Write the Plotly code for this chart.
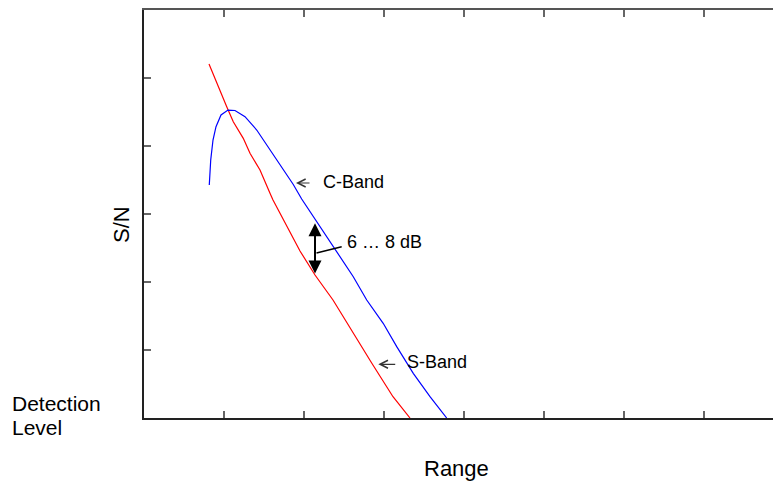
import plotly.graph_objects as go

# S-Band (red) curve, data units: x = range (ticks every 1), y = S/N (ticks every 1)
s_band_x = [0.8125, 0.909, 1.034, 1.116, 1.241, 1.325, 1.45, 1.575, 1.6125, 1.95,
            2.1375, 2.3625, 2.6125, 2.846, 3.1125, 3.325]
s_band_y = [5.206, 4.922, 4.578, 4.357, 4.113, 3.893, 3.647, 3.304, 3.206, 2.456,
            2.103, 1.735, 1.25, 0.809, 0.313, 0.0]

# C-Band (blue) curve
c_band_x = [0.816, 0.834, 0.8625, 0.9, 0.9625, 1.05, 1.1375, 1.2625, 1.409, 1.575,
            1.741, 1.866, 1.971, 2.2, 2.366, 2.616, 2.784, 2.99, 3.159, 3.366,
            3.575, 3.784]
c_band_y = [3.426, 3.794, 4.088, 4.284, 4.456, 4.529, 4.522, 4.431, 4.235, 3.941,
            3.647, 3.434, 3.221, 2.813, 2.519, 2.078, 1.735, 1.393, 1.049, 0.657,
            0.313, 0.0]

# gap marker (6 ... 8 dB)
gap_x = 2.1375
gap_top = 2.863
gap_bottom = 2.103

labels = ["C-Band", "S-Band", "6 … 8 dB"]

x_range = [0, 7.8625]
y_range = [0, 6]

FONT = "Liberation Sans, Arial, sans-serif"

fig = go.Figure()
fig.add_trace(go.Scatter(x=s_band_x, y=s_band_y, mode="lines",
                         line=dict(color="#ff0000", width=1.2), showlegend=False))
fig.add_trace(go.Scatter(x=c_band_x, y=c_band_y, mode="lines",
                         line=dict(color="#0000ff", width=1.2), showlegend=False))
# invisible trace for the top mirror axis
fig.add_trace(go.Scatter(x=[0], y=[0], xaxis="x2", mode="markers",
                         marker=dict(opacity=0), showlegend=False, hoverinfo="skip"))

ann = []
# double arrow
ann.append(dict(x=gap_x, y=gap_top, ax=gap_x, ay=gap_bottom, xref="x", yref="y",
                axref="x", ayref="y", text="", showarrow=True, arrowhead=2,
                arrowside="end+start", arrowsize=1.3, arrowwidth=2, arrowcolor="#000"))
# leader line to the label
ann.append(dict(x=2.471, y=2.519, ax=gap_x, ay=2.422, xref="x", yref="y",
                axref="x", ayref="y", text="", showarrow=True, arrowhead=0,
                arrowwidth=1.5, arrowcolor="#000"))
ann.append(dict(x=2.5125, y=2.588, xref="x", yref="y", text=labels[2],
                showarrow=False, xanchor="left", yanchor="middle",
                font=dict(family=FONT, size=18, color="#000")))

# C-Band pointer + label
ann.append(dict(x=1.9, y=3.456, ax=2.0875, ay=3.456, xref="x", yref="y",
                axref="x", ayref="y", text="", showarrow=True, arrowhead=5,
                arrowsize=1.3, arrowwidth=1.2, arrowcolor="#333"))
ann.append(dict(x=2.2125, y=3.47, xref="x", yref="y", text=labels[0],
                showarrow=False, xanchor="left", yanchor="middle",
                font=dict(family=FONT, size=18, color="#000")))
# S-Band pointer + label
ann.append(dict(x=2.929, y=0.79, ax=3.159, ay=0.79, xref="x", yref="y",
                axref="x", ayref="y", text="", showarrow=True, arrowhead=5,
                arrowsize=1.3, arrowwidth=1.2, arrowcolor="#333"))
ann.append(dict(x=3.2625, y=0.82, xref="x", yref="y", text=labels[1],
                showarrow=False, xanchor="left", yanchor="middle",
                font=dict(family=FONT, size=18, color="#000")))

# titles (paper coords: plot x 144..773, y 10..418)
def px(xp):
    return (xp - 144) / 629.0

def py(yp):
    return (418 - yp) / 408.0

ann.append(dict(x=px(456), y=py(468), xref="paper", yref="paper", text="Range",
                showarrow=False, xanchor="center", yanchor="middle",
                font=dict(family=FONT, size=22, color="#000")))
ann.append(dict(x=px(121), y=py(225), xref="paper", yref="paper", text="S/N",
                showarrow=False, xanchor="center", yanchor="middle", textangle=-90,
                font=dict(family=FONT, size=22, color="#000")))
ann.append(dict(x=px(10), y=py(403), xref="paper", yref="paper",
                text="Detection", align="left",
                showarrow=False, xanchor="left", yanchor="middle",
                font=dict(family=FONT, size=21, color="#000")))
ann.append(dict(x=px(10), y=py(427.5), xref="paper", yref="paper",
                text="Level", align="left",
                showarrow=False, xanchor="left", yanchor="middle",
                font=dict(family=FONT, size=21, color="#000")))

fig.update_layout(
    width=773, height=482,
    margin=dict(l=144, r=0, t=10, b=64),
    paper_bgcolor="white", plot_bgcolor="white",
    showlegend=False,
    annotations=ann,
    xaxis=dict(range=x_range, dtick=1, tick0=0, showgrid=False, zeroline=False,
               showline=True, linecolor="#222", linewidth=2,
               ticks="inside", ticklen=7, tickwidth=2, tickcolor="#666",
               showticklabels=False),
    xaxis2=dict(overlaying="x", matches="x", side="top", dtick=1, tick0=0,
                showgrid=False, zeroline=False, showline=True, linecolor="#555",
                linewidth=1.5, ticks="inside", ticklen=7, tickwidth=2,
                tickcolor="#666", showticklabels=False),
    yaxis=dict(range=y_range, dtick=1, tick0=0, showgrid=False, zeroline=False,
               showline=True, linecolor="#222", linewidth=2,
               ticks="inside", ticklen=7, tickwidth=2, tickcolor="#666",
               showticklabels=False),
)

fig.write_html("out.html", config={"displayModeBar": False},
               post_script="document.body.style.margin='0';document.body.style.overflow='hidden';")
